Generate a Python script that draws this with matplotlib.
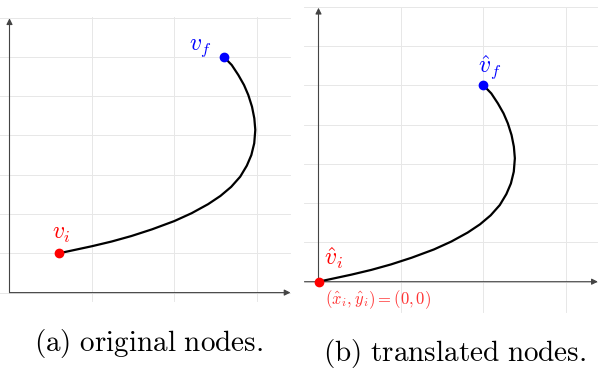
import numpy as np
import matplotlib
matplotlib.use('Agg')
import matplotlib.pyplot as plt

plt.rcParams['mathtext.fontset'] = 'cm'

# curve (grid units)
curve_x = [0.60, 0.80, 1.00, 1.24, 1.48, 1.73, 2.00, 2.21, 2.41, 2.56,
           2.69, 2.80, 2.88, 2.935, 2.97, 2.983, 2.971, 2.943, 2.898,
           2.846, 2.777, 2.697, 2.60]
curve_y = [1.00, 1.09, 1.18, 1.30, 1.44, 1.61, 1.82, 2.02, 2.25, 2.46,
           2.69, 2.95, 3.23, 3.50, 3.80, 4.14, 4.435, 4.73, 5.028,
           5.282, 5.537, 5.791, 6.00]

v_i = (0.60, 1.00)
v_f = (2.60, 6.00)

captions = ['(a) original nodes.', '(b) translated nodes.']

W, H = 598, 369
PX_X, PX_Y = 82.4, 39.3
AXIS_COL = '#444444'
GRID_COL = '#e7e7e7'


def make_axes(fig, box, origin):
    # box = (left, top, right, bottom) in pixels, origin = pixel of (0, 0)
    l, t, r, b = box
    ax = fig.add_axes([l / W, 1 - b / H, (r - l) / W, (b - t) / H])
    ox, oy = origin
    ax.set_xlim((l - ox) / PX_X, (r - ox) / PX_X)
    ax.set_ylim((oy - b) / PX_Y, (oy - t) / PX_Y)
    ax.set_axis_off()
    return ax


def draw_frame(ax, gx, gy, ax_x0, ax_x1, ax_y1):
    for x in range(1, 4):
        ax.plot([x, x], [gy[0], gy[1]], color=GRID_COL, lw=0.7, zorder=1)
    for y in range(0, 8):
        ax.plot([gx[0], gx[1]], [y, y], color=GRID_COL, lw=0.7, zorder=1)
    arrow = dict(arrowstyle='-|>', color=AXIS_COL, lw=0.8,
                 mutation_scale=9, shrinkA=0, shrinkB=0)
    ax.annotate('', xy=(ax_x1, 0), xytext=(ax_x0, 0), arrowprops=arrow, zorder=2)
    ax.annotate('', xy=(0, ax_y1), xytext=(0, 0), arrowprops=arrow, zorder=2)


fig = plt.figure(figsize=(W / 100, H / 100), dpi=100)

# (a) original nodes
ax1 = make_axes(fig, (0, 0, 298, 310), (9.5, 292.6))
draw_frame(ax1, (-0.2, 3.41), (-0.22, 7.02), 0, 3.41, 6.98)
ax1.plot(curve_x, curve_y, color='black', lw=1.6, zorder=3,
         solid_capstyle='round', solid_joinstyle='round')
ax1.plot(*v_i, 'o', color='red', ms=6, zorder=4)
ax1.plot(*v_f, 'o', color='blue', ms=6, zorder=4)
ax1.text(v_i[0] + 0.03, v_i[1] + 0.52, r'$v_i$', color='red', fontsize=17,
         ha='center', va='center')
ax1.text(v_f[0] - 0.29, v_f[1] + 0.26, r'$v_f$', color='blue', fontsize=17,
         ha='center', va='center')

# (b) translated nodes
hat_x = [x - v_i[0] for x in curve_x]
hat_y = [y - v_i[1] for y in curve_y]
ax2 = make_axes(fig, (299, 0, 598, 322), (318.5, 281.7))
draw_frame(ax2, (-0.17, 3.38), (-0.78, 6.98), -0.17, 3.39, 6.97)
ax2.plot(hat_x, hat_y, color='black', lw=1.6, zorder=3,
         solid_capstyle='round', solid_joinstyle='round')
ax2.plot(0, 0, 'o', color='red', ms=6, zorder=4)
ax2.plot(v_f[0] - v_i[0], v_f[1] - v_i[1], 'o', color='blue', ms=6, zorder=4)
ax2.text(0.19, 0.60, r'$\hat{v}_i$', color='red', fontsize=17,
         ha='center', va='center')
ax2.text(v_f[0] - v_i[0] + 0.08, v_f[1] - v_i[1] + 0.44, r'$\hat{v}_f$',
         color='blue', fontsize=17, ha='center', va='center')
ax2.text(0.72, -0.45, r'$(\hat{x}_i, \hat{y}_i) = (0, 0)$', color='#ff3333',
         fontsize=12, ha='center', va='center')

fig.text(149 / W, 1 - 344 / H, r'$\mathrm{' + captions[0].replace(' ', r'\ ') + '}$',
         fontsize=21, ha='center', va='center')
fig.text(455 / W, 1 - 353 / H, r'$\mathrm{' + captions[1].replace(' ', r'\ ') + '}$',
         fontsize=21, ha='center', va='center')

fig.savefig('out.png', dpi=100)
